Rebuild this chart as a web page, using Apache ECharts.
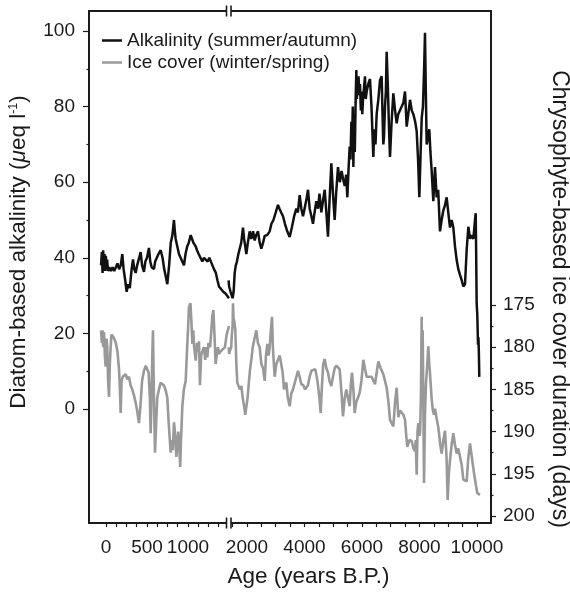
<!DOCTYPE html>
<html>
<head>
<meta charset="utf-8">
<title>Alkalinity and ice cover</title>
<script src="https://cdn.jsdelivr.net/npm/echarts@6/dist/echarts.min.js"></script>
<style>
  html, body { margin: 0; padding: 0; background: #fff; }
  #main { width: 570px; height: 593px; }
</style>
</head>
<body>
<div id="main"></div>
<script>
// diatom-based alkalinity (µeq/l), summer/autumn
var alkAge = [-60, -50, -42, -34, -26, -18, -10, -2, 6, 14, 24, 40, 60, 80, 100, 120, 140, 160, 180, 199,
  215, 235, 252, 270, 290, 313, 330, 345, 362, 380, 400, 423, 440, 463, 480, 500, 524, 540, 557, 585,
  600, 618, 640, 667, 690, 710, 730, 748, 770, 790, 810, 829, 840, 850, 870, 890, 910, 930, 951, 970,
  990, 1010, 1033, 1050, 1065, 1094, 1110, 1130, 1150, 1175, 1195, 1216, 1240, 1260, 1277, 1298, 1317, 1340, 1360, 1378,
  1400, 1430, 1460, 1500, 1535, 1572, 1610, 1650, 1700, 1746, 1800, 1861, 1900, 1940, 1977, 2030, 2093, 2150, 2210, 2267,
  2320, 2383, 2440, 2499, 2560, 2615, 2700, 2789, 2850, 2920, 3000, 3078, 3130, 3190, 3252, 3320, 3400, 3484, 3560, 3640,
  3716, 3770, 3832, 3890, 3948, 4030, 4080, 4122, 4180, 4240, 4296, 4350, 4412, 4470, 4520, 4586, 4640, 4702, 4760, 4817,
  4870, 4933, 4990, 5049, 5100, 5165, 5230, 5290, 5339, 5400, 5450, 5490, 5530, 5571, 5600, 5630, 5652, 5680, 5700, 5722,
  5750, 5780, 5803, 5820, 5840, 5860, 5880, 5900, 5930, 5960, 5980, 6010, 6035, 6070, 6104, 6130, 6162, 6220, 6278, 6330,
  6394, 6430, 6470, 6510, 6570, 6626, 6684, 6720, 6742, 6765, 6800, 6830, 6858, 6900, 6940, 6974, 7030, 7090, 7150, 7206,
  7260, 7322, 7380, 7438, 7496, 7554, 7610, 7670, 7730, 7786, 7850, 7902, 7950, 7994, 8040, 8077, 8120, 8160, 8191, 8220,
  8250, 8300, 8341, 8380, 8423, 8481, 8539, 8597, 8650, 8713, 8770, 8828, 8890, 8945, 9000, 9061, 9120, 9177, 9235, 9293,
  9350, 9409, 9470, 9525, 9583, 9640, 9699, 9760, 9814, 9873, 9930, 9955, 9970, 9988, 10010, 10035, 10050, 10065, 10080];
var alkValue = [38, 41.5, 36, 42, 37, 41, 36.5, 40.5, 37, 39.5, 36.5, 37.5, 36.5, 37.5, 36.5, 37, 38.5, 37, 38, 41,
  37, 34, 31, 33, 32, 37, 39.6, 37, 36, 38, 38.5, 41.5, 38, 36.3, 39, 40, 42.6, 39, 37.5, 37,
  39, 39.5, 41, 42, 40, 37, 35, 33, 38, 44, 46, 50, 47, 45, 43, 41, 40, 39, 38, 41,
  43, 44, 46, 45, 44, 43, 42, 41, 40.5, 39, 40, 40, 39, 40, 40, 38, 37, 36, 34, 32.4,
  32, 31, 30.5, 29.3, 31, 36, 38, 39, 41, 41, 44, 48, 45, 43, 41, 44, 47, 45, 47, 44.6,
  46, 47, 44, 42.4, 44, 45.8, 46, 47, 49, 50, 52, 54, 53, 52, 51, 49, 47, 45.5, 48, 51,
  53, 52, 56.6, 53, 51, 54, 56, 58, 53, 51, 49, 52, 55, 53, 57, 52, 55, 58, 52, 45.6,
  55, 65, 57, 50, 57, 64, 60, 63, 61, 59, 62, 56, 63, 69.4, 66, 76, 70, 80, 64, 78,
  68, 82, 89.7, 82, 87, 83, 88, 84, 86, 79, 84, 78, 82, 85, 88, 82, 84, 86, 87.3, 80,
  66.7, 74, 70, 78, 82, 87, 88, 76, 70, 72, 80, 84, 94.5, 85, 74, 66.7, 76, 83.5, 79, 75.6,
  78, 78, 80, 81, 84, 74.7, 78, 81.8, 79, 78, 76, 73.5, 66, 56, 68, 77, 80, 90, 99.5, 84,
  70, 72, 74, 68, 63, 55, 64, 56, 58, 47, 50, 52.5, 54, 56, 52, 48, 50, 48, 43, 39.4,
  37, 35.5, 34, 32.4, 33, 42, 48.2, 45, 46, 45, 50, 51.8, 42, 28, 25, 17, 19, 15, 8.5];

// chrysophyte-based ice cover duration (days), winter/spring
var iceAge = [-60, -50, -42, -34, -24, -14, -4, 6, 16, 26, 37, 47, 57, 67, 77, 90, 105, 120, 140, 159,
  170, 179, 190, 205, 220, 240, 260, 280, 300, 320, 341, 360, 380, 402, 420, 440, 463, 485, 504, 520,
  535, 545, 555, 565, 573, 585, 598, 612, 625, 646, 667, 687, 705, 725, 748, 765, 789, 805, 815, 829,
  845, 858, 870, 882, 895, 905, 915, 931, 950, 972, 990, 1000, 1012, 1030, 1042, 1053, 1065, 1075, 1094, 1110,
  1122, 1134, 1146, 1160, 1175, 1195, 1210, 1225, 1236, 1250, 1270, 1285, 1296, 1310, 1325, 1337, 1350, 1365, 1380, 1398,
  1420, 1451, 1470, 1485, 1500, 1513, 1530, 1560, 1593, 1630, 1663, 1700, 1750, 1803, 1850, 1900, 1940, 1977, 2020, 2070,
  2110, 2151, 2200, 2260, 2325, 2380, 2441, 2470, 2499, 2560, 2615, 2660, 2708, 2750, 2789, 2830, 2870, 2900, 2935, 2963,
  3020, 3078, 3140, 3194, 3240, 3287, 3330, 3368, 3420, 3484, 3540, 3600, 3680, 3774, 3830, 3890, 3960, 4020, 4064, 4120,
  4180, 4238, 4300, 4377, 4450, 4520, 4563, 4600, 4650, 4702, 4760, 4817, 4870, 4933, 4990, 5050, 5107, 5165, 5223, 5290,
  5339, 5400, 5455, 5510, 5571, 5610, 5652, 5700, 5745, 5800, 5860, 5919, 5980, 6046, 6100, 6162, 6250, 6336, 6400, 6452,
  6510, 6568, 6650, 6742, 6800, 6858, 6920, 6974, 7030, 7090, 7150, 7206, 7264, 7320, 7380, 7440, 7496, 7540, 7577, 7650,
  7728, 7790, 7843, 7870, 7902, 7930, 7959, 8000, 8020, 8050, 8075, 8100, 8110, 8130, 8157, 8190, 8226, 8270, 8307, 8340,
  8365, 8420, 8458, 8500, 8539, 8600, 8655, 8720, 8771, 8830, 8887, 8940, 8980, 9020, 9061, 9120, 9177, 9230, 9293, 9350,
  9409, 9470, 9525, 9580, 9641, 9700, 9757, 9800, 9850, 9900, 9930, 9970, 10010, 10060, 10104];
var iceDays = [178, 179.5, 178, 180, 178.2, 181, 182.3, 179, 180, 184, 185.9, 182, 180, 178.5, 178.3, 178.8, 179.1, 179.5, 180.5, 182.6,
  185, 187.8, 184, 183.5, 183.3, 183.2, 183.8, 183.5, 184.5, 185, 185.7, 186.5, 187.5, 189, 187, 184, 182.8, 182.2, 182, 183,
  186, 190.2, 186, 181, 178, 186, 192.5, 189, 186, 185, 184.2, 184, 184.5, 185, 186, 189, 192.5, 191, 192.2, 188.9,
  190.5, 193, 191.5, 190, 192, 194.2, 191, 187, 185, 184, 180, 178, 175.2, 174.8, 177, 179.6, 178, 180, 181.6, 179.5,
  180.5, 179.3, 184.5, 181, 180.5, 180, 181.5, 180, 181.2, 179.5, 180, 178, 176.4, 175.6, 179, 182, 181, 180, 180.8, 180.5,
  180.3, 180, 178.6, 178.4, 177.5, 174.8, 176.5, 177, 177.9, 182, 184.2, 184, 185, 184.6, 186, 187, 188, 187.8, 186, 184,
  182.5, 181.5, 180, 179, 178, 179.5, 180, 181, 182, 182.5, 184, 181, 179.6, 181, 180, 178, 176.4, 180, 182, 183.5,
  182, 181.5, 181, 181.1, 183, 185, 184.5, 184.2, 186, 187, 185.5, 185, 184, 182.8, 183.5, 184.4, 184.5, 185, 185.1, 184.5,
  183.5, 182.8, 183, 182.6, 184, 186, 187.8, 185, 182, 181.4, 182.5, 183, 184, 184.6, 183.5, 182.5, 182.2, 182.4, 182.6, 185.5,
  188.2, 186, 185, 186, 187, 184.5, 183, 185, 187.8, 186.5, 186, 185.4, 184, 181.5, 182.5, 183.5, 183.5, 183.5, 184, 184.4,
  183, 181.7, 182.5, 183.2, 184, 184.8, 186.5, 188.6, 189, 189.4, 186.5, 184.8, 188.3, 187.5, 187.3, 188, 188.6, 190.5, 191.8, 191,
  191.1, 192, 192.3, 191, 195.1, 190, 189, 190.5, 190, 186, 176.4, 186, 178, 185, 196.1, 188, 184.3, 182, 179.9, 182,
  183.1, 186, 187.3, 188, 187.3, 188.5, 189.5, 191.5, 192.6, 191, 189.9, 193, 198.1, 195, 193.4, 191.5, 190.2, 191.5, 192.6, 192,
  192.2, 194, 195.7, 195.5, 195.9, 193, 191.4, 192.5, 193.8, 195, 195, 196.5, 197.3, 197.5, 197.5];

// axis ticks and labels
var alkTicks = [0, 20, 40, 60, 80, 100];
var alkMinorTicks = [10, 30, 50, 70, 90];
var iceTicks = [175, 180, 185, 190, 195, 200];
var iceMinorTicks = [177.5, 182.5, 187.5, 192.5, 197.5];
var earlyAgeTicks = [0, 125, 250, 375, 500, 625, 750, 875, 1000, 1125, 1250, 1375];
var earlyAgeLabels = [0, 500, 1000];
var lateAgeTicks = [1500, 2000, 2500, 3000, 3500, 4000, 4500, 5000, 5500, 6000, 6500, 7000, 7500, 8000, 8500, 9000, 9500, 10000];
var lateAgeLabels = [2000, 4000, 6000, 8000, 10000];

// the two halves of the broken age axis
var EARLY = { min: -207, max: 1488 };
var LATE = { min: 1374, max: 10487 };

function pairs(xs, ys, range) {
  // keep one point either side of the window so the line runs to the edge
  return xs.map(function (x, i) { return [x, ys[i]]; })
    .filter(function (p) { return p[0] >= range.min - 20 && p[0] <= range.max + 15; });
}

var FONT = 'Liberation Sans, Arial, sans-serif';
var INK = '#1a1a1a';
var ALK_COLOR = '#111111';
var ICE_COLOR = '#999999';

// same scale on every alkalinity / ice axis so both grids line up
var alkScale = { min: -30.16, max: 105.29 };
var iceScale = { min: 140.17, max: 200.83, inverse: true };

var plainLabel = function (v) { return String(v); };

function ageAxis(grid, range, ticks, labels) {
  return {
    type: 'value', gridIndex: grid, min: range.min, max: range.max, position: 'bottom',
    splitLine: { show: false },
    axisLine: { onZero: false, lineStyle: { color: INK, width: 2 } },
    axisTick: { customValues: ticks, length: 4, lineStyle: { color: INK, width: 1.2 } },
    axisLabel: { customValues: labels, formatter: plainLabel, margin: 15,
      fontSize: 19, fontFamily: FONT, color: INK }
  };
}

function topLine(grid, range) {
  return {
    type: 'value', gridIndex: grid, min: range.min, max: range.max, position: 'top',
    splitLine: { show: false }, axisTick: { show: false }, axisLabel: { show: false },
    axisLine: { onZero: false, lineStyle: { color: INK, width: 2 } }
  };
}

function hiddenAxis(grid, scale) {
  return Object.assign({ type: 'value', gridIndex: grid, show: false }, scale);
}

function lineSeries(name, data, xi, yi, color, width, z) {
  return { name: name, type: 'line', xAxisIndex: xi, yAxisIndex: yi, data: data,
    symbol: 'none', clip: true, lineStyle: { color: color, width: width },
    itemStyle: { color: color }, z: z };
}

var ALK_NAME = 'Alkalinity (summer/autumn)';
var ICE_NAME = 'Ice cover (winter/spring)';

var chart = echarts.init(document.getElementById('main'));

chart.setOption({
  animation: false,
  backgroundColor: '#fff',
  grid: [
    { left: 89, top: 11, width: 139, height: 512, outerBoundsMode: 'none' },
    { left: 229, top: 11, width: 262, height: 512, outerBoundsMode: 'none' }
  ],
  legend: {
    orient: 'vertical', left: 97, top: 26,
    itemWidth: 20, itemHeight: 2.5, itemGap: 3, icon: 'rect',
    textStyle: { fontSize: 19, fontFamily: FONT, color: INK },
    data: [ALK_NAME, ICE_NAME]
  },
  xAxis: [
    ageAxis(0, EARLY, earlyAgeTicks, earlyAgeLabels),
    topLine(0, EARLY),
    ageAxis(1, LATE, lateAgeTicks, lateAgeLabels),
    topLine(1, LATE)
  ],
  yAxis: [
    Object.assign({
      type: 'value', gridIndex: 0, position: 'left',
      splitLine: { show: false },
      axisLine: { show: true, onZero: false, lineStyle: { color: INK, width: 2 } },
      axisTick: { show: true, customValues: alkTicks, length: 6, lineStyle: { color: INK, width: 1.2 } },
      axisLabel: { customValues: alkTicks, margin: 14, fontSize: 19, fontFamily: FONT, color: INK }
    }, alkScale),
    Object.assign({
      type: 'value', gridIndex: 0, position: 'left',
      splitLine: { show: false }, axisLine: { show: false, onZero: false }, axisLabel: { show: false },
      axisTick: { show: true, customValues: alkMinorTicks, length: 2.5, lineStyle: { color: INK, width: 1.2 } }
    }, alkScale),
    hiddenAxis(0, iceScale),
    hiddenAxis(1, alkScale),
    Object.assign({
      type: 'value', gridIndex: 1, position: 'right',
      splitLine: { show: false },
      axisLine: { show: true, onZero: false, lineStyle: { color: INK, width: 2 } },
      axisTick: { show: true, customValues: iceTicks, length: 5, lineStyle: { color: INK, width: 1.2 } },
      axisLabel: { customValues: iceTicks, margin: 12, fontSize: 19, fontFamily: FONT, color: INK }
    }, iceScale),
    Object.assign({
      type: 'value', gridIndex: 1, position: 'right',
      splitLine: { show: false }, axisLine: { show: false, onZero: false }, axisLabel: { show: false },
      axisTick: { show: true, customValues: iceMinorTicks, length: 2.5, lineStyle: { color: INK, width: 1.2 } }
    }, iceScale)
  ],
  series: [
    lineSeries(ICE_NAME, pairs(iceAge, iceDays, EARLY), 0, 2, ICE_COLOR, 2.6, 2),
    lineSeries(ICE_NAME, pairs(iceAge, iceDays, LATE), 2, 4, ICE_COLOR, 2.6, 2),
    lineSeries(ALK_NAME, pairs(alkAge, alkValue, EARLY), 0, 0, ALK_COLOR, 2.5, 3),
    lineSeries(ALK_NAME, pairs(alkAge, alkValue, LATE), 2, 3, ALK_COLOR, 2.5, 3)
  ],
  graphic: [
    // axis break marks top and bottom
    { type: 'rect', z: 100, shape: { x: 227, y: 9, width: 4, height: 4 }, style: { fill: '#fff' } },
    { type: 'rect', z: 100, shape: { x: 227, y: 521, width: 4, height: 4 }, style: { fill: '#fff' } },
    { type: 'line', z: 101, shape: { x1: 226.5, y1: 5.5, x2: 226.5, y2: 16.5 }, style: { stroke: INK, lineWidth: 1.6 } },
    { type: 'line', z: 101, shape: { x1: 231, y1: 5.5, x2: 231, y2: 16.5 }, style: { stroke: INK, lineWidth: 1.6 } },
    { type: 'line', z: 101, shape: { x1: 226.5, y1: 517.5, x2: 226.5, y2: 528.5 }, style: { stroke: INK, lineWidth: 1.6 } },
    { type: 'line', z: 101, shape: { x1: 231, y1: 517.5, x2: 231, y2: 528.5 }, style: { stroke: INK, lineWidth: 1.6 } },
    // axis titles
    { type: 'text', x: 18.5, y: 252, rotation: Math.PI / 2, z: 10,
      style: {
        text: 'Diatom-based alkalinity ({i|μ}eq l{sup|-1})',
        fontSize: 22.5, fontFamily: FONT, fill: INK, align: 'center', verticalAlign: 'middle',
        rich: {
          i: { fontSize: 22.5, fontFamily: FONT, fontStyle: 'italic', fill: INK },
          sup: { fontSize: 12.5, fontFamily: FONT, fill: INK, verticalAlign: 'top' }
        }
      } },
    { type: 'text', x: 559, y: 299, rotation: -Math.PI / 2, z: 10,
      style: { text: 'Chrysophyte-based ice cover duration (days)', fontSize: 23, fontFamily: FONT,
        fill: INK, align: 'center', verticalAlign: 'middle' } },
    { type: 'text', x: 308.5, y: 577, z: 10,
      style: { text: 'Age (years B.P.)', fontSize: 22.5, fontFamily: FONT, fill: INK,
        align: 'center', verticalAlign: 'middle' } }
  ]
});
</script>
</body>
</html>
